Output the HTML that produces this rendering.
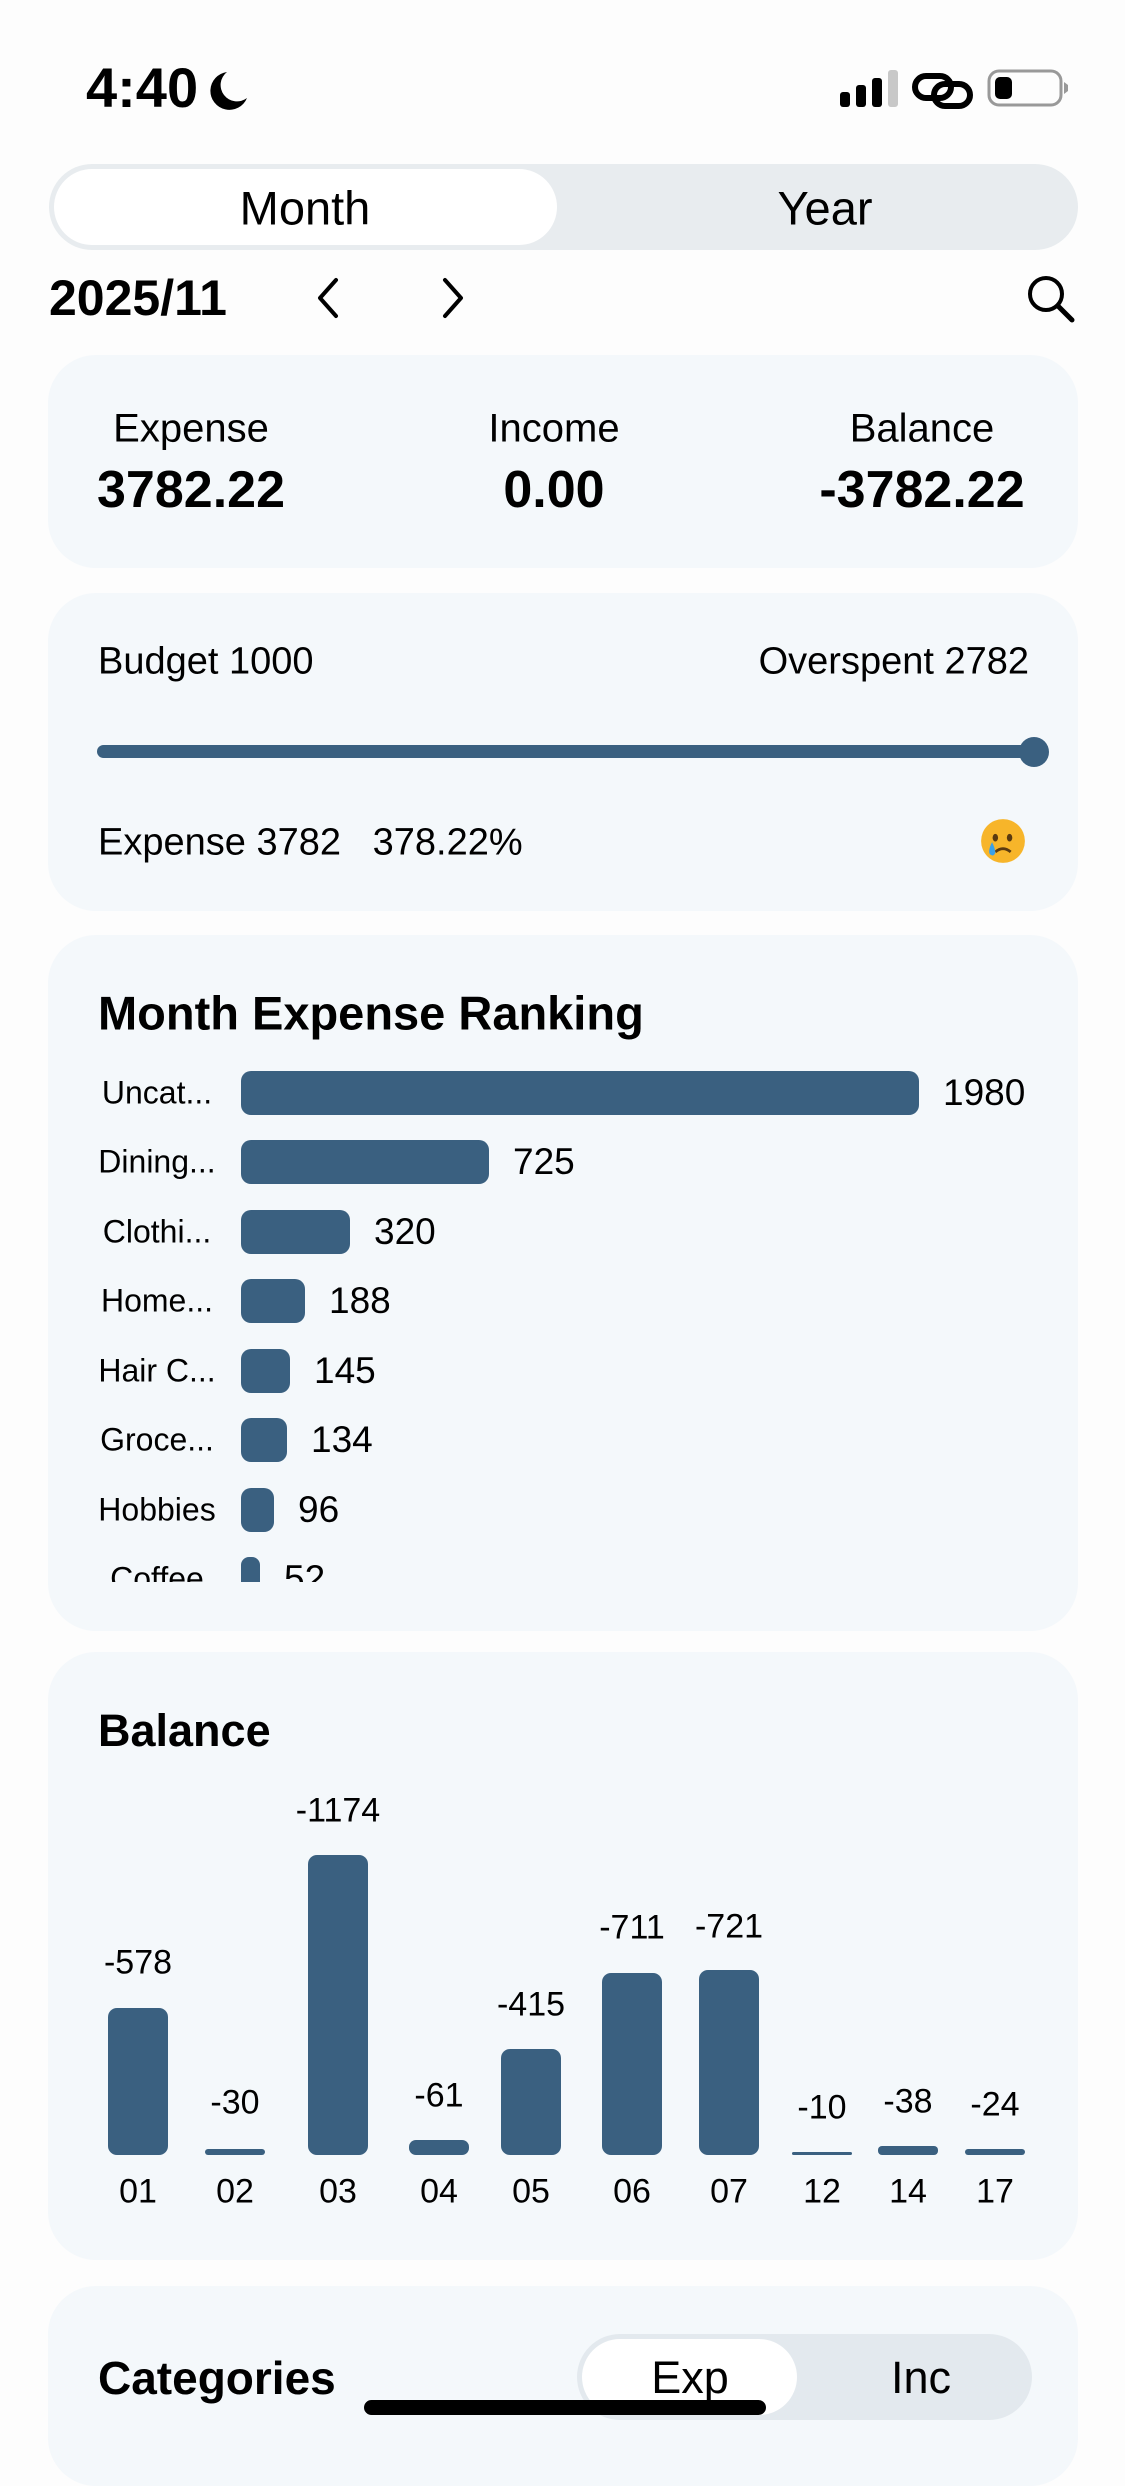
<!DOCTYPE html>
<html><head><meta charset="utf-8"><style>
*{margin:0;padding:0;box-sizing:border-box}
body{width:1125px;height:2436px;background:#fdfdfd;position:relative;overflow:hidden;font-family:"Liberation Sans",sans-serif;color:#000}
.a{position:absolute;white-space:nowrap}
.card{position:absolute;left:48px;width:1030px;background:#f4f8fb;border-radius:48px}
.c{transform:translate(-50%,-50%)}
.bar{position:absolute;background:#3a6080}
.cl{position:absolute;font-size:32px;transform:translateY(-50%);left:98px;width:118px;text-align:center}
.cv{position:absolute;font-size:37px;transform:translateY(-50%)}
.bl{position:absolute;font-size:34px;transform:translate(-50%,-50%)}
</style></head><body>
<!-- status bar -->
<div class="a" style="left:86px;top:58px;font-size:56px;font-weight:bold;line-height:60px">4:40</div>
<svg class="a" style="left:203px;top:68px" width="48" height="44" viewBox="0 0 48 44"><path d="M24 4 A19 19 0 1 0 44 30 A16 16 0 0 1 24 4Z" fill="#000"/></svg>
<svg class="a" style="left:838px;top:68px" width="240" height="42" viewBox="0 0 240 42">
<rect x="2" y="24" width="10" height="15" rx="3" fill="#000"/>
<rect x="18" y="17" width="10" height="22" rx="3" fill="#000"/>
<rect x="34" y="10" width="10" height="29" rx="3" fill="#000"/>
<rect x="50" y="2" width="10" height="37" rx="3" fill="#c8c8c8"/>
<rect x="77" y="8" width="36" height="22" rx="11" fill="none" stroke="#000" stroke-width="6"/>
<rect x="96" y="16" width="36" height="22" rx="11" fill="none" stroke="#000" stroke-width="6"/>
<rect x="151" y="3" width="72" height="34" rx="10" fill="none" stroke="#999" stroke-width="3"/>
<rect x="157" y="9" width="17" height="22" rx="5" fill="#000"/>
<path d="M226 14 L230 17 L230 23 L226 26Z" fill="#999"/>
</svg>
<!-- segmented -->
<div class="a" style="left:49px;top:164px;width:1029px;height:86px;background:#e8ecef;border-radius:43px"></div>
<div class="a" style="left:54px;top:169px;width:503px;height:76px;background:#fff;border-radius:38px"></div>
<div class="a c" style="left:305px;top:208px;font-size:47px">Month</div>
<div class="a c" style="left:825px;top:208px;font-size:47px">Year</div>
<!-- date row -->
<div class="a" style="left:49px;top:268px;font-size:50px;font-weight:bold;line-height:60px">2025/11</div>
<svg class="a" style="left:310px;top:276px" width="170" height="44" viewBox="0 0 170 44"><path d="M26 4 L10 22 L26 40" fill="none" stroke="#000" stroke-width="4" stroke-linecap="round" stroke-linejoin="round"/><path d="M135 4 L151 22 L135 40" fill="none" stroke="#000" stroke-width="4" stroke-linecap="round" stroke-linejoin="round"/></svg>
<svg class="a" style="left:1024px;top:272px" width="56" height="52" viewBox="0 0 56 52"><circle cx="22" cy="22" r="16" fill="none" stroke="#000" stroke-width="4"/><path d="M34 34 L48 48" stroke="#000" stroke-width="5" stroke-linecap="round"/></svg>
<!-- card1 -->
<div class="card" style="top:355px;height:213px"></div>
<div class="a c" style="left:191px;top:429px;font-size:40px">Expense</div>
<div class="a c" style="left:554px;top:429px;font-size:40px">Income</div>
<div class="a c" style="left:922px;top:429px;font-size:40px">Balance</div>
<div class="a c" style="left:191px;top:490px;font-size:52px;font-weight:bold">3782.22</div>
<div class="a c" style="left:554px;top:490px;font-size:52px;font-weight:bold">0.00</div>
<div class="a c" style="left:922px;top:490px;font-size:52px;font-weight:bold">-3782.22</div>
<!-- card2 -->
<div class="card" style="top:593px;height:318px"></div>
<div class="a" style="left:98px;top:662px;font-size:38px;transform:translateY(-50%)">Budget 1000</div>
<div class="a" style="right:96px;top:662px;font-size:38px;transform:translateY(-50%)">Overspent 2782</div>
<div class="a" style="left:97px;top:745px;width:944px;height:13px;background:#3a6080;border-radius:7px"></div>
<div class="a" style="left:1019px;top:737px;width:30px;height:30px;background:#3a6080;border-radius:50%"></div>
<div class="a" style="left:98px;top:843px;font-size:38px;transform:translateY(-50%)">Expense 3782&nbsp;&nbsp;&nbsp;378.22%</div>
<svg class="a" style="left:980px;top:818px" width="46" height="46" viewBox="0 0 42 42"><circle cx="21" cy="21" r="20" fill="#f7b52a"/><ellipse cx="14" cy="18" rx="2.5" ry="3.5" fill="#5a3a10"/><ellipse cx="27" cy="18" rx="2.5" ry="3.5" fill="#5a3a10"/><path d="M14 31 Q21 25 28 31" fill="none" stroke="#5a3a10" stroke-width="2.5"/><path d="M11 22 Q7 30 9 33 Q12 36 14 32 Q14 28 11 22Z" fill="#3aa0e8"/></svg>
<!-- card3 ranking -->
<div class="card" style="top:935px;height:696px"></div>
<div class="a" style="left:98px;top:1013px;font-size:47px;font-weight:bold;transform:translateY(-50%)">Month Expense Ranking</div>
<div class="a" style="left:0;top:1060px;width:1125px;height:522px;overflow:hidden">
<div style="position:relative;top:-1060px">
<div class="cl" style="top:1093px">Uncat...</div><div class="bar" style="left:241px;top:1071px;width:678px;height:44px;border-radius:10px"></div><div class="cv" style="left:943px;top:1093px">1980</div>
<div class="cl" style="top:1162px">Dining...</div><div class="bar" style="left:241px;top:1140px;width:248px;height:44px;border-radius:10px"></div><div class="cv" style="left:513px;top:1162px">725</div>
<div class="cl" style="top:1232px">Clothi...</div><div class="bar" style="left:241px;top:1210px;width:109px;height:44px;border-radius:10px"></div><div class="cv" style="left:374px;top:1232px">320</div>
<div class="cl" style="top:1301px">Home...</div><div class="bar" style="left:241px;top:1279px;width:64px;height:44px;border-radius:10px"></div><div class="cv" style="left:329px;top:1301px">188</div>
<div class="cl" style="top:1371px">Hair C...</div><div class="bar" style="left:241px;top:1349px;width:49px;height:44px;border-radius:10px"></div><div class="cv" style="left:314px;top:1371px">145</div>
<div class="cl" style="top:1440px">Groce...</div><div class="bar" style="left:241px;top:1418px;width:46px;height:44px;border-radius:10px"></div><div class="cv" style="left:311px;top:1440px">134</div>
<div class="cl" style="top:1510px">Hobbies</div><div class="bar" style="left:241px;top:1488px;width:33px;height:44px;border-radius:10px"></div><div class="cv" style="left:298px;top:1510px">96</div>
<div class="cl" style="top:1579px">Coffee</div><div class="bar" style="left:241px;top:1557px;width:19px;height:44px;border-radius:8px"></div><div class="cv" style="left:284px;top:1579px">52</div>
</div></div>
<!-- card4 balance -->
<div class="card" style="top:1652px;height:608px"></div>
<div class="a" style="left:98px;top:1731px;font-size:45px;font-weight:bold;transform:translateY(-50%)">Balance</div>
<div class="bar" style="left:108px;top:2008px;width:60px;height:147px;border-radius:9px"></div><div class="bl" style="left:138px;top:1963px">-578</div><div class="bl" style="left:138px;top:2192px">01</div>
<div class="bar" style="left:205px;top:2149px;width:60px;height:6px;border-radius:3px"></div><div class="bl" style="left:235px;top:2103px">-30</div><div class="bl" style="left:235px;top:2192px">02</div>
<div class="bar" style="left:308px;top:1855px;width:60px;height:300px;border-radius:9px"></div><div class="bl" style="left:338px;top:1811px">-1174</div><div class="bl" style="left:338px;top:2192px">03</div>
<div class="bar" style="left:409px;top:2140px;width:60px;height:15px;border-radius:7px"></div><div class="bl" style="left:439px;top:2096px">-61</div><div class="bl" style="left:439px;top:2192px">04</div>
<div class="bar" style="left:501px;top:2049px;width:60px;height:106px;border-radius:9px"></div><div class="bl" style="left:531px;top:2005px">-415</div><div class="bl" style="left:531px;top:2192px">05</div>
<div class="bar" style="left:602px;top:1973px;width:60px;height:182px;border-radius:9px"></div><div class="bl" style="left:632px;top:1928px">-711</div><div class="bl" style="left:632px;top:2192px">06</div>
<div class="bar" style="left:699px;top:1970px;width:60px;height:185px;border-radius:9px"></div><div class="bl" style="left:729px;top:1927px">-721</div><div class="bl" style="left:729px;top:2192px">07</div>
<div class="bar" style="left:792px;top:2152px;width:60px;height:3px;border-radius:2px"></div><div class="bl" style="left:822px;top:2108px">-10</div><div class="bl" style="left:822px;top:2192px">12</div>
<div class="bar" style="left:878px;top:2146px;width:60px;height:9px;border-radius:4px"></div><div class="bl" style="left:908px;top:2102px">-38</div><div class="bl" style="left:908px;top:2192px">14</div>
<div class="bar" style="left:965px;top:2149px;width:60px;height:6px;border-radius:3px"></div><div class="bl" style="left:995px;top:2105px">-24</div><div class="bl" style="left:995px;top:2192px">17</div>
<!-- card5 -->
<div class="card" style="top:2286px;height:200px"></div>
<div class="a" style="left:98px;top:2378px;font-size:46px;font-weight:bold;transform:translateY(-50%)">Categories</div>
<div class="a" style="left:577px;top:2334px;width:455px;height:86px;background:#e3e9ee;border-radius:43px"></div>
<div class="a" style="left:582px;top:2339px;width:215px;height:76px;background:#fff;border-radius:38px"></div>
<div class="a c" style="left:690px;top:2378px;font-size:45px">Exp</div>
<div class="a c" style="left:921px;top:2378px;font-size:45px">Inc</div>
<div class="a" style="left:364px;top:2400px;width:402px;height:15px;background:#000;border-radius:8px"></div>
</body></html>
